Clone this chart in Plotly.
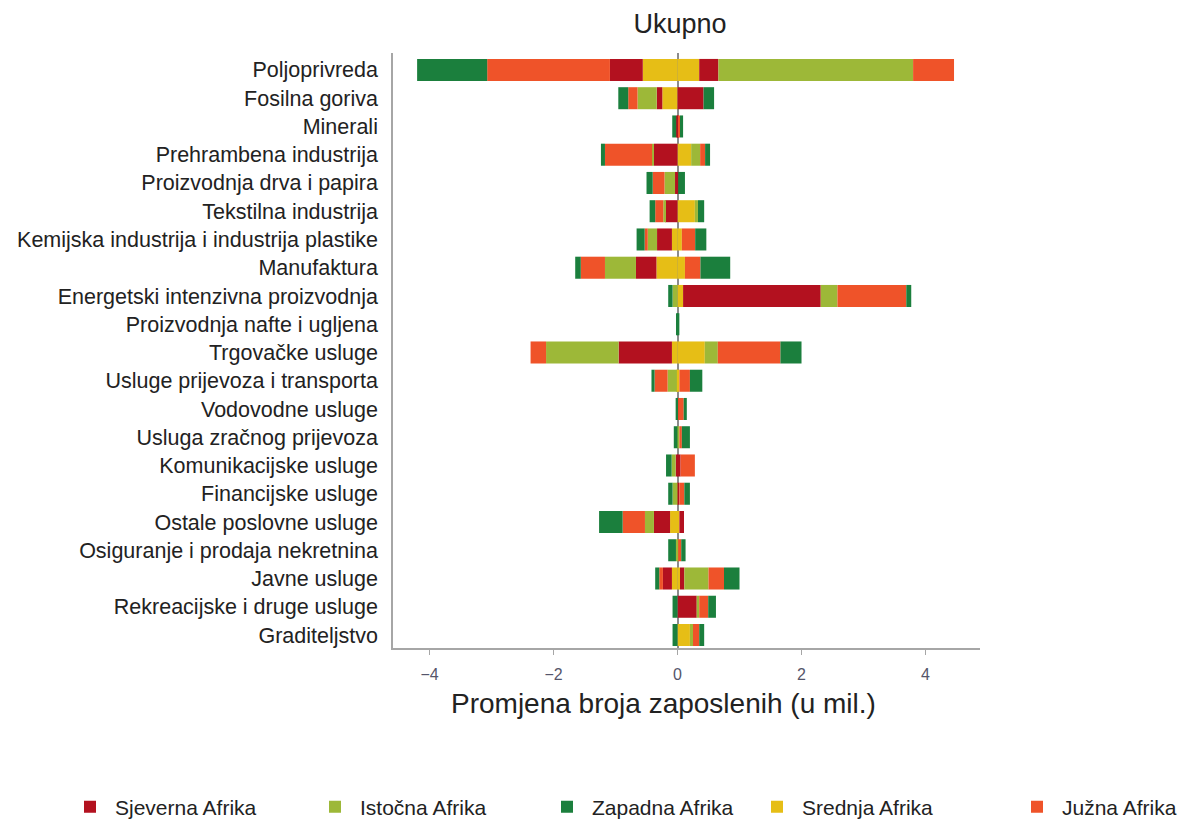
import plotly.graph_objects as go

sectors = [
    "Poljoprivreda", "Fosilna goriva", "Minerali", "Prehrambena industrija",
    "Proizvodnja drva i papira", "Tekstilna industrija",
    "Kemijska industrija i industrija plastike", "Manufaktura",
    "Energetski intenzivna proizvodnja", "Proizvodnja nafte i ugljena",
    "Trgovačke usluge", "Usluge prijevoza i transporta", "Vodovodne usluge",
    "Usluga zračnog prijevoza", "Komunikacijske usluge", "Financijske usluge",
    "Ostale poslovne usluge", "Osiguranje i prodaja nekretnina", "Javne usluge",
    "Rekreacijske i druge usluge", "Graditeljstvo",
]

# change in employment (millions), negative and positive parts per region
srednja_neg = [-0.56, -0.245, 0, 0, 0, 0, -0.09, -0.34, 0, 0, -0.09, -0.01, 0, 0, 0, 0, -0.12, 0, -0.09, 0, 0]
srednja_pos = [0.35, 0, 0, 0.22, 0, 0.28, 0.07, 0.12, 0.09, 0, 0.44, 0.03, 0, 0, 0, 0, 0.03, 0, 0.04, 0, 0.20]
sjeverna_neg = [-0.53, -0.09, -0.02, -0.38, -0.04, -0.20, -0.24, -0.33, 0, 0, -0.86, 0, 0, 0, -0.03, 0, -0.26, 0, -0.145, 0, 0]
sjeverna_pos = [0.31, 0.42, 0.01, 0, 0.01, 0, 0, 0, 2.22, 0, 0, 0, 0.01, 0, 0.05, 0.03, 0.075, 0, 0.07, 0.31, 0]
istocna_neg = [0, -0.31, 0, -0.03, -0.17, -0.03, -0.15, -0.50, -0.08, 0, -1.17, -0.15, 0, 0, -0.065, -0.08, -0.145, -0.025, 0, 0, 0]
istocna_pos = [3.14, 0, 0, 0.145, 0, 0.05, 0, 0, 0.27, 0, 0.21, 0, 0, 0.03, 0, 0, 0, 0.01, 0.39, 0.04, 0.05]
juzna_neg = [-1.98, -0.15, 0, -0.76, -0.19, -0.13, -0.05, -0.39, 0, 0, -0.25, -0.21, 0, 0, 0, 0, -0.36, 0, -0.06, 0, 0]
juzna_pos = [0.66, 0, 0.03, 0.08, 0, 0, 0.215, 0.25, 1.11, 0, 1.01, 0.17, 0.09, 0.04, 0.23, 0.08, 0, 0.05, 0.25, 0.145, 0.10]
zapadna_neg = [-1.13, -0.16, -0.065, -0.065, -0.10, -0.09, -0.13, -0.09, -0.07, -0.02, 0, -0.05, -0.03, -0.06, -0.09, -0.07, -0.38, -0.125, -0.065, -0.08, -0.08]
zapadna_pos = [0, 0.17, 0.05, 0.08, 0.11, 0.10, 0.18, 0.48, 0.08, 0.03, 0.34, 0.20, 0.05, 0.13, 0, 0.09, 0, 0.07, 0.25, 0.125, 0.08]

# page body has an 8px margin; figure is sized to fill the rest of the window
OFF = 8
W, H = 1187 - OFF, 823 - OFF

# stacking order (from zero outwards); each region has its own legend box
regions = [
    ("Srednja Afrika", "#E6BE16", srednja_neg, srednja_pos, "legend4", 775),
    ("Sjeverna Afrika", "#B3111F", sjeverna_neg, sjeverna_pos, "legend", 88),
    ("Istočna Afrika", "#9DB838", istocna_neg, istocna_pos, "legend2", 333),
    ("Južna Afrika", "#EF5329", juzna_neg, juzna_pos, "legend5", 1035),
    ("Zapadna Afrika", "#1B7F3D", zapadna_neg, zapadna_pos, "legend3", 565),
]

fig = go.Figure()
legends = {}
for name, color, neg, pos, leg, icon_x in regions:
    for vals, show in ((neg, True), (pos, False)):
        fig.add_trace(go.Bar(
            x=vals, y=sectors, orientation="h", name=name,
            marker=dict(color=color, line=dict(width=0)),
            width=0.78, legendgroup=name, showlegend=show, legend=leg,
        ))
    legends[leg] = dict(
        orientation="h", xref="container", yref="container",
        x=(icon_x - OFF - 23) / W, xanchor="left",
        y=16 / H, yanchor="middle", bgcolor="rgba(0,0,0,0)",
        itemwidth=40,
        font=dict(size=21, color="#222222"),
    )

fig.update_layout(
    barmode="relative",
    width=W, height=H,
    paper_bgcolor="white", plot_bgcolor="white",
    margin=dict(l=393 - OFF, r=W - (980 - OFF), t=53 - OFF, b=H - (648 - OFF), autoexpand=False),
    font=dict(family="Liberation Sans, Arial, sans-serif", color="#222222"),
    title=dict(text="Ukupno", x=(680 - OFF) / W, xref="container", xanchor="center",
               y=1 - (24 - OFF) / H, yref="container", yanchor="middle",
               font=dict(size=27, color="#222222")),
    showlegend=True,
    xaxis=dict(range=[-4.589, 4.879], tickvals=[-4, -2, 0, 2, 4],
               showgrid=False, zeroline=True, zerolinecolor="#8C8C8C", zerolinewidth=1.5,
               showline=True, linecolor="#A6A6A6", linewidth=2, layer="below traces",
               ticks="outside", ticklen=5, tickcolor="#A6A6A6", ticklabelstandoff=6,
               tickfont=dict(size=16, color="#55556A")),
    yaxis=dict(categoryorder="array", categoryarray=sectors,
               range=[20.46, -0.6], showgrid=False, zeroline=False,
               showline=True, linecolor="#A6A6A6", linewidth=1.5, layer="below traces",
               ticks="", ticklabelstandoff=9,
               tickfont=dict(size=21.5, color="#222222")),
    annotations=[dict(text="Promjena broja zaposlenih (u mil.)", xref="paper", yref="paper",
                      x=(663.5 - 393) / 587, y=-(703 - 648) / 595, xanchor="center",
                      yanchor="middle", showarrow=False,
                      font=dict(size=28, color="#222222"))],
)
fig.update_layout(**legends)

fig.write_html("out.html")
